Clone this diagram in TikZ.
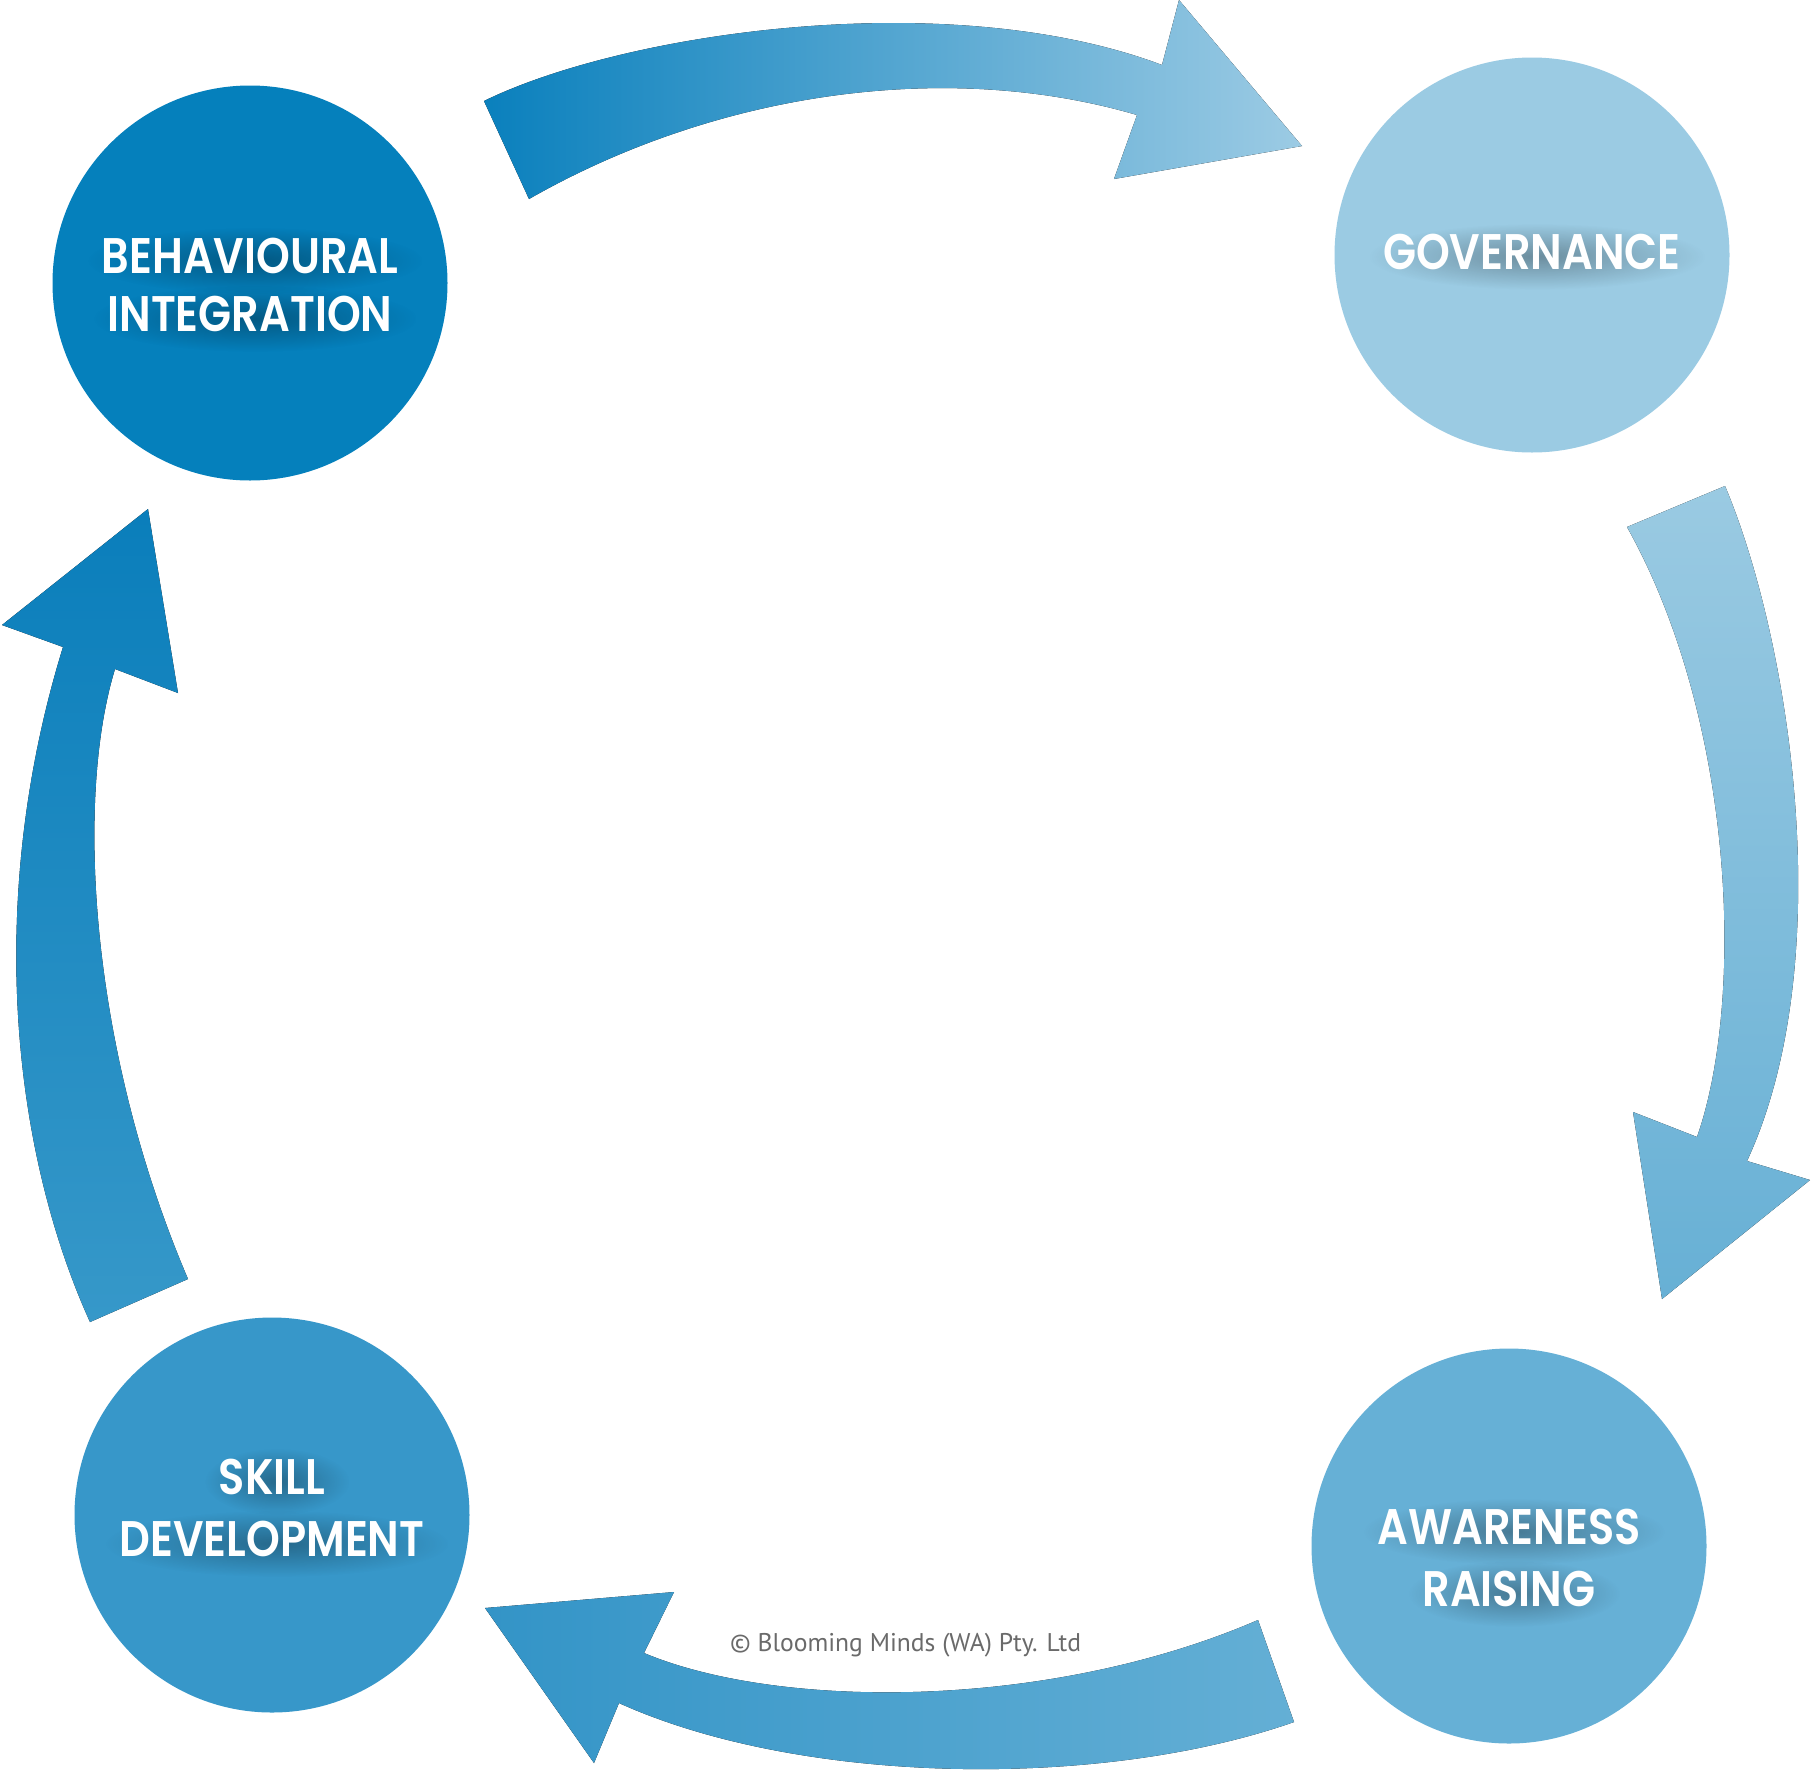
\documentclass[tikz,border=0pt]{standalone}
\usepackage{fontspec}
\usetikzlibrary{fadings}
\setmainfont{Poppins}
\newfontfamily\labfont{Poppins}[FakeStretch=0.86, BoldFont={Poppins SemiBold}]
\newfontfamily\copyfont{PT Sans}
\definecolor{cBI}{HTML}{0580BC}
\definecolor{cGov}{HTML}{9BCBE3}
\definecolor{cSkill}{HTML}{3797C9}
\definecolor{cAware}{HTML}{66B0D6}
\definecolor{aTopL}{HTML}{0A80BD}
\definecolor{aTopR}{HTML}{9CCBE4}
\definecolor{aRightT}{HTML}{9ACAE2}
\definecolor{aRightB}{HTML}{67B0D5}
\definecolor{aBotR}{HTML}{64AFD5}
\definecolor{aBotL}{HTML}{3394C7}
\definecolor{aLeftT}{HTML}{0A7EBB}
\definecolor{aLeftB}{HTML}{3698C9}
\definecolor{copygray}{HTML}{6A6A6A}
\pgfdeclarelayer{bubbles}
\pgfdeclarelayer{shadows}
\pgfsetlayers{bubbles,shadows,main}
\tikzfading[name=softshadow, inner color=transparent!0, outer color=transparent!100]
\tikzset{
  bubble/.style={circle, minimum size=395pt, inner sep=0pt, draw=none},
  lab/.style={anchor=base, inner sep=0pt, text=white, font=\labfont\bfseries\fontsize{50}{60}\selectfont},
  txtshadow/.style={fill=black, opacity=0.30, path fading=softshadow},
  blockarrow/.style={draw=none},
}
\newcommand\labshadow[1]{%
  \fill[txtshadow] ([shift={(-14,-10)}]#1.north west) rectangle ([shift={(24,20)}]#1.south east);}
\begin{document}
\begin{tikzpicture}[x=1pt,y=-1pt]
\useasboundingbox (0,0) rectangle (1811,1775);

\begin{pgfonlayer}{bubbles}
\fill[white] (0,0) rectangle (1811,1775);
\node[bubble, fill=cBI]    (bi)    at (250,283)   {};
\node[bubble, fill=cGov]   (gov)   at (1532,255)  {};
\node[bubble, fill=cSkill] (skill) at (272,1515)  {};
\node[bubble, fill=cAware] (aware) at (1509,1546) {};
\end{pgfonlayer}

% top arrow (Behavioural -> Governance)
\fill[blockarrow, left color=aTopL, right color=aTopR]
  (484,101) .. controls (625,32) and (950,-15) .. (1162,65)
  -- (1179,0) -- (1302,146) -- (1114,179) -- (1137,115)
  .. controls (950,60) and (720,90) .. (529,199) -- cycle;

% right arrow (Governance -> Awareness)
\fill[blockarrow, top color=aRightT, bottom color=aRightB]
  (1725,486) .. controls (1790,640) and (1840,960) .. (1747,1161)
  -- (1810,1180) -- (1662,1299) -- (1633,1112) -- (1697,1137)
  .. controls (1745,1000) and (1735,720) .. (1627,527) -- cycle;

% bottom arrow (Awareness -> Skill)
\fill[blockarrow, left color=aBotL, right color=aBotR]
  (1294,1722) .. controls (1100,1790) and (800,1785) .. (619,1703)
  -- (594,1763) -- (485,1608) -- (674,1592) -- (644,1653)
  .. controls (780,1710) and (1050,1710) .. (1258,1620) -- cycle;

% left arrow (Skill -> Behavioural)
\fill[blockarrow, top color=aLeftT, bottom color=aLeftB]
  (90,1322) .. controls (12,1150) and (-15,900) .. (63,647)
  -- (2,625) -- (148,509) -- (178,693) -- (115,669)
  .. controls (75,800) and (90,1050) .. (188,1279) -- cycle;

% labels
\node[lab] (biA)  at (250,273)  {BEHAVIOURAL};
\node[lab] (biB)  at (250,331)  {INTEGRATION};
\node[lab] (govA) at (1532,269) {GOVERNANCE};
\node[lab] (skA)  at (272,1494) {SKILL};
\node[lab] (skB)  at (272,1556) {DEVELOPMENT};
\node[lab] (awA)  at (1509,1544) {AWARENESS};
\node[lab] (awB)  at (1509,1606) {RAISING};

\begin{pgfonlayer}{shadows}
\labshadow{biA}\labshadow{biB}\labshadow{govA}
\labshadow{skA}\labshadow{skB}\labshadow{awA}\labshadow{awB}
\end{pgfonlayer}

\node[anchor=base west, inner sep=0pt, text=copygray, font=\copyfont\fontsize{25.6}{30}\selectfont] (copy) at (730,1651) {© Blooming Minds (WA) Pty. Ltd};
\end{tikzpicture}
\end{document}
